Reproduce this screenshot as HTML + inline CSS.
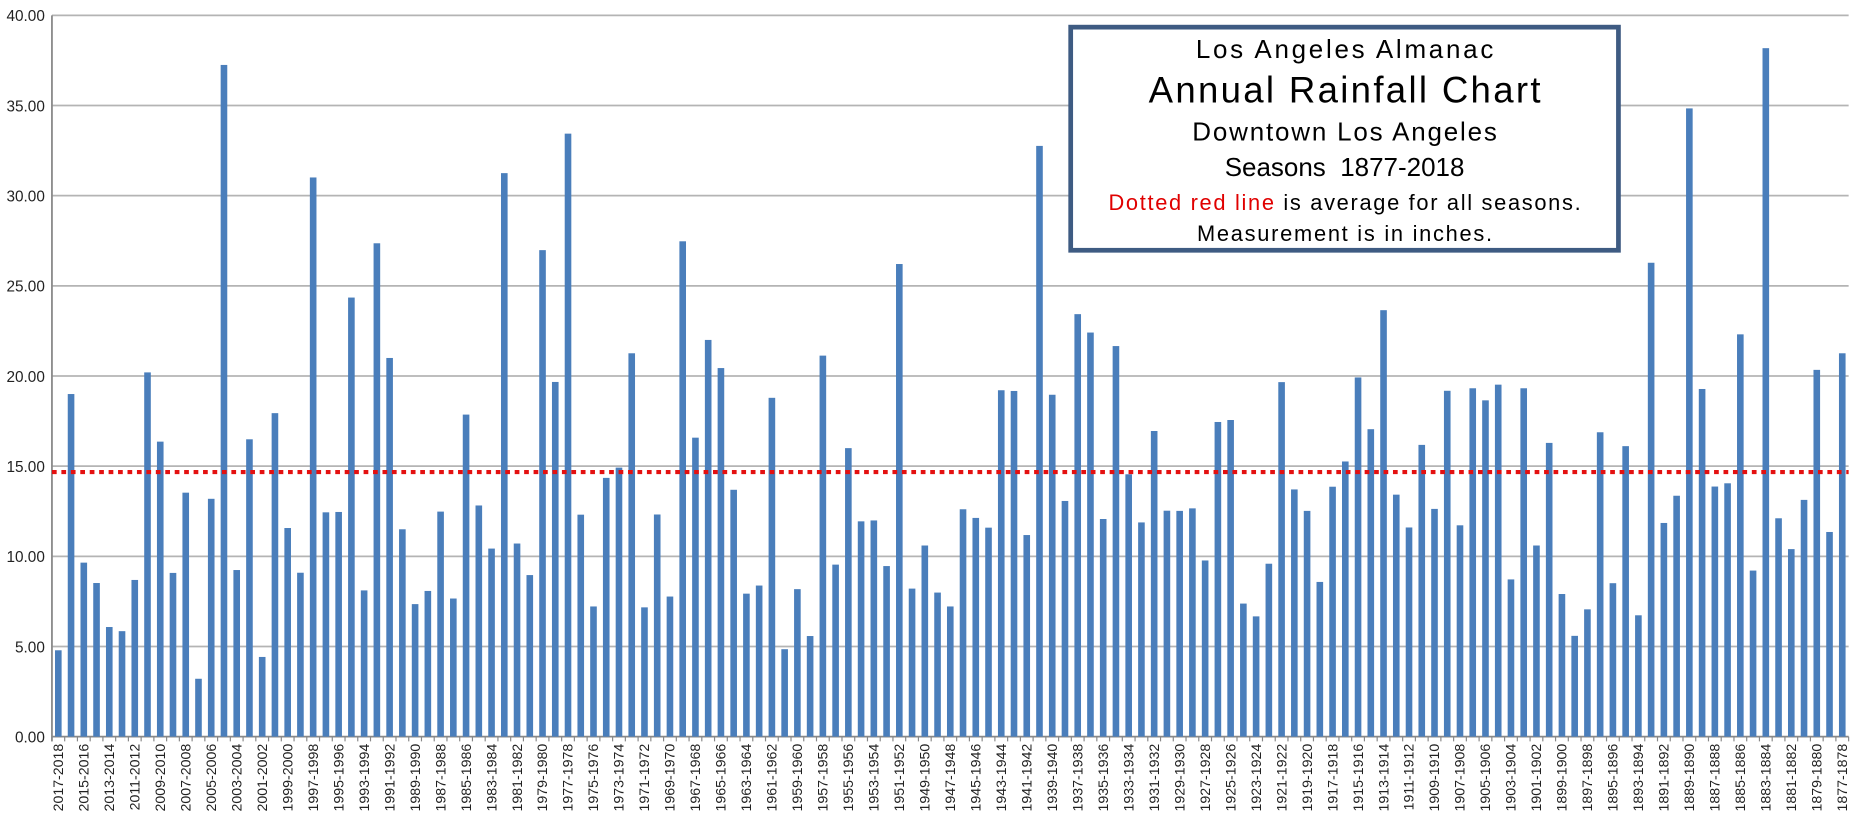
<!DOCTYPE html>
<html><head><meta charset="utf-8">
<style>
html,body{margin:0;padding:0;background:#fff;}
svg{display:block;font-family:"Liberation Sans",sans-serif;}
</style></head>
<body>
<svg id="chart" width="1851" height="820" viewBox="0 0 1568 694.6" preserveAspectRatio="none" xmlns="http://www.w3.org/2000/svg">
<g id="grid"></g>
<g id="yticks"></g>
<g id="bars"></g>
<g id="xticks"></g>
<line id="avgline" stroke="#e41010" stroke-width="3.5" stroke-dasharray="4,4"/>
<g>
<rect x="907" y="23" width="464" height="189" fill="#fff" stroke="#3e5b82" stroke-width="4"/>
<text x="1139" y="49" font-size="22" text-anchor="middle" textLength="252" lengthAdjust="spacing">Los Angeles Almanac</text>
<text x="1139" y="87" font-size="31" text-anchor="middle" textLength="332" lengthAdjust="spacing">Annual Rainfall Chart</text>
<text x="1139" y="119" font-size="22" text-anchor="middle" textLength="258" lengthAdjust="spacing">Downtown Los Angeles</text>
<text x="1139" y="149" font-size="22" text-anchor="middle">Seasons&#160; 1877-2018</text>
<text x="1139" y="178" font-size="18.5" text-anchor="middle" textLength="400" lengthAdjust="spacing"><tspan fill="#e00000">Dotted red line</tspan> is average for all seasons.</text>
<text x="1139" y="204" font-size="18.5" text-anchor="middle" textLength="250" lengthAdjust="spacing">Measurement is in inches.</text>
</g>
</svg>
<script>
const seasons = [];
for (let y = 2017; y >= 1877; y--) seasons.push(y + "-" + (y + 1));
const rainfall = [4.79,19.00,9.65,8.52,6.08,5.85,8.69,20.20,16.36,9.08,13.53,3.21,13.19,37.25,9.24,16.49,4.42,17.94,11.57,9.09,
31.01,12.44,12.46,24.35,8.11,27.36,21.00,11.50,7.35,8.08,12.48,7.66,17.86,12.82,10.43,31.25,10.71,8.96,26.98,19.67,
33.44,12.31,7.22,14.35,14.92,21.26,7.17,12.32,7.77,27.47,16.58,22.00,20.44,13.69,7.93,8.38,18.79,4.85,8.18,5.58,
21.13,9.54,16.00,11.94,11.99,9.46,26.21,8.21,10.60,7.99,7.22,12.61,12.13,11.59,19.21,19.17,11.18,32.76,18.96,13.07,
23.43,22.41,12.07,21.66,14.55,11.88,16.95,12.53,12.52,12.66,9.77,17.45,17.56,7.38,6.67,9.59,19.66,13.71,12.52,8.58,
13.86,15.26,19.92,17.05,23.65,13.42,11.60,16.18,12.63,19.18,11.72,19.32,18.65,19.52,8.72,19.32,10.60,16.29,7.91,5.59,
7.06,16.88,8.51,16.11,6.73,26.28,11.85,13.36,34.84,19.28,13.87,14.05,22.31,9.21,38.18,12.11,10.40,13.13,20.34,11.35,21.26];
const average = [14.67];
const yTicks = [0,5,10,15,20,25,30,35,40];

const NS = "http://www.w3.org/2000/svg";
const X0 = 44, X1 = 1566, Y0 = 624, Y1 = 13, YMAX = 40;
const step = (X1 - X0) / seasons.length;
const yScale = v => Y0 - (v / YMAX) * (Y0 - Y1);
const xScale = i => X0 + (i + 0.5) * step;
function mk(tag, attrs, parent) {
  const e = document.createElementNS(NS, tag);
  for (const k in attrs) e.setAttribute(k, attrs[k]);
  parent.appendChild(e);
  return e;
}
const grid = document.getElementById('grid');
const yt = document.getElementById('yticks');
yTicks.forEach(t => {
  const y = yScale(t);
  const l = mk('line', {x1: X0, x2: X1, y1: y, y2: y, stroke: t === 0 ? '#888' : '#b4b4b4', 'stroke-width': 1.5}, grid);
  
  
  const tx = mk('text', {x: 38, y: y + 5, 'font-size': 13, 'text-anchor': 'end', fill: '#222'}, yt);
  tx.textContent = t.toFixed(2);
  
  
});
const ax = mk('line', {x1: X0, x2: X0, y1: Y1, y2: Y0 + 4, stroke: '#888', 'stroke-width': 1.5}, grid);


for (let i = 0; i <= seasons.length; i++) {
  const x = X0 + i * step;
  const tk = mk('line', {x1: x, x2: x, y1: Y0, y2: Y0 + 4, stroke: '#888', 'stroke-width': 1}, grid);
  
  
}
const bars = document.getElementById('bars');
rainfall.forEach((v, i) => {
  const y = yScale(v);
  const r = mk('rect', {x: xScale(i) - 2.8, y: y, width: 5.6, height: Y0 - y, fill: '#4a7ebb'}, bars);
  
  
});
const xt = document.getElementById('xticks');
seasons.forEach((s, i) => {
  if (i % 2 !== 0) return;
  const x = xScale(i) + 4;
  const t = mk('text', {x: x, y: 630, 'font-size': 12, 'text-anchor': 'end', fill: '#222', transform: 'rotate(-90 ' + x + ' 630)'}, xt);
  t.textContent = s;
  
  
});
const al = document.getElementById('avgline');
al.setAttribute('x1', X0); al.setAttribute('x2', X1);
al.setAttribute('y1', yScale(average[0])); al.setAttribute('y2', yScale(average[0]));
</script>
</body></html>
